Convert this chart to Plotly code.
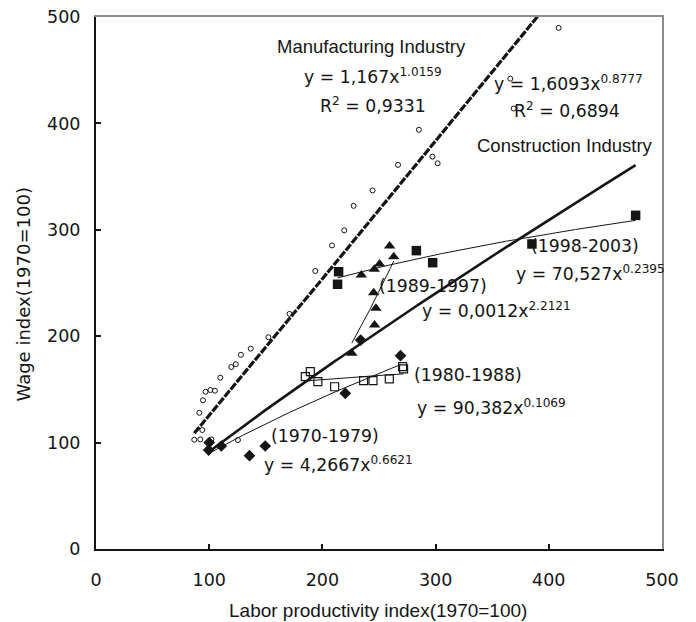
import numpy as np
import plotly.graph_objects as go

# ---------------- data ----------------
mfg_x = [100, 86.8, 92.1, 101.9, 125.4, 93.9, 91.3, 94.5, 96.8, 101, 105, 109.8, 119.5, 123.5,
         128, 136.7, 152.3, 171, 193.7, 208.5, 219.3, 227.6, 244.3, 266.8, 285.2, 297.2, 301.8,
         366, 369, 408.7]
mfg_y = [100, 102.7, 103, 103, 102.4, 111.8, 128, 139.8, 147.8, 149.4, 148.8, 161, 171, 173.7,
         182.5, 188.3, 199, 221, 261.3, 285.3, 299.5, 322.5, 337, 361, 394, 368.7, 362.5,
         442, 414, 489.8]

c7079_x = [100, 99.5, 110.7, 135.6, 149.5, 220.2, 233.8, 269]
c7079_y = [100, 93, 96.8, 87.7, 96.8, 146.3, 196.4, 181.7]

c8088_x = [184.9, 189.3, 196, 210.8, 236.4, 244.7, 259.1, 270.8, 271.7]
c8088_y = [162, 166.7, 157.3, 152.5, 158.2, 158.2, 159.8, 171.4, 169.2]

c8997_x = [226, 246.1, 247.3, 245.3, 234.4, 245.8, 250.5, 263, 259.4]
c8997_y = [184, 210.5, 226.2, 240.9, 257.5, 262.9, 267.9, 274.7, 284.8]

c9803_x = [213.4, 214.3, 283, 297.4, 385.1, 476.7]
c9803_y = [248.8, 260.6, 280.4, 269.1, 286.7, 313.6]

# power-law fit coefficients (y = a * x^b) as printed on the chart
mfg_fit = (1.167, 1.0159)
con_fit = (1.6093, 0.8777)
fit_7079 = (4.2667, 0.6621)
fit_8088 = (90.382, 0.1069)
fit_8997 = (0.0012, 2.2121)
fit_9803 = (70.527, 0.2395)

tick_vals = [0, 100, 200, 300, 400, 500]

# ---------------- figure ----------------
WORD_FONT = "Liberation Sans, Arial, sans-serif"
NUM_FONT = "DejaVu Sans, sans-serif"
INK = "#151515"
FRAME = "#8c8c8c"


def curve(xs, fit):
    xx = np.linspace(min(xs), max(xs), 120)
    return xx, fit[0] * xx ** fit[1]


fig = go.Figure()

con_all_x = c7079_x + c8088_x + c8997_x + c9803_x

# trend lines
for xs, fit, w, dash in [
    (mfg_x, mfg_fit, 3.2, "8px,1.5px"),
    (con_all_x, con_fit, 2.6, "solid"),
    (c7079_x, fit_7079, 1, "solid"),
    (c8088_x, fit_8088, 1, "solid"),
    (c8997_x, fit_8997, 1, "solid"),
    (c9803_x, fit_9803, 1, "solid"),
]:
    xx, yy = curve(xs, fit)
    fig.add_trace(go.Scatter(x=xx, y=yy, mode="lines",
                             line=dict(color=INK, width=w, dash=dash),
                             hoverinfo="skip", showlegend=False))

# markers
fig.add_trace(go.Scatter(x=mfg_x, y=mfg_y, mode="markers", showlegend=False,
                         marker=dict(symbol="circle-open", size=5, color=INK, line=dict(width=1))))
fig.add_trace(go.Scatter(x=c7079_x, y=c7079_y, mode="markers", showlegend=False,
                         marker=dict(symbol="diamond", size=9, color=INK)))
fig.add_trace(go.Scatter(x=c8088_x, y=c8088_y, mode="markers", showlegend=False,
                         marker=dict(symbol="square-open", size=8, color=INK, line=dict(width=1.2))))
fig.add_trace(go.Scatter(x=c8997_x, y=c8997_y, mode="markers", showlegend=False,
                         marker=dict(symbol="triangle-up", size=10, color=INK)))
fig.add_trace(go.Scatter(x=c9803_x, y=c9803_y, mode="markers", showlegend=False,
                         marker=dict(symbol="square", size=9.5, color=INK)))

# empty trace that carries the gray top/right frame axes
fig.add_trace(go.Scatter(x=[None], y=[None], xaxis="x2", yaxis="y2",
                         mode="markers", showlegend=False, hoverinfo="skip"))

# text labels (word labels / numeric labels)
word_labels = [
    ("Manufacturing Industry", 158.0, 472.0),
    ("Construction Industry", 335.0, 379.5),
]
num_labels = [
    ("y = 1,167x<sup>1.0159</sup>", 182.2, 444.5),
    ("R<sup>2</sup> = 0,9331", 195.8, 417.0),
    ("y = 1,6093x<sup>0.8777</sup>", 349.8, 438.0),
    ("R<sup>2</sup> = 0,6894", 367.5, 413.0),
    ("(1998-2003)", 382.2, 285.0),
    ("y = 70,527x<sup>0.2395</sup>", 368.9, 259.5),
    ("(1989-1997)", 248.2, 247.5),
    ("y = 0,0012x<sup>2.2121</sup>", 286.5, 224.5),
    ("(1980-1988)", 279.2, 163.5),
    ("y = 90,382x<sup>0.1069</sup>", 282.1, 133.0),
    ("(1970-1979)", 152.5, 106.5),
    ("y = 4,2667x<sup>0.6621</sup>", 146.6, 80.0),
]
for txt, x, y in word_labels:
    fig.add_annotation(x=x, y=y, xref="x", yref="y", text=txt, showarrow=False,
                       xanchor="left", yanchor="middle",
                       font=dict(family=WORD_FONT, size=18.5, color=INK))
for txt, x, y in num_labels:
    fig.add_annotation(x=x, y=y, xref="x", yref="y", text=txt, showarrow=False,
                       xanchor="left", yanchor="middle",
                       font=dict(family=NUM_FONT, size=17.3, color=INK))

# axis titles
fig.add_annotation(x=0.4985, y=-0.1147, xref="paper", yref="paper",
                   text="Labor productivity index(1970=100)", showarrow=False,
                   xanchor="center", yanchor="middle",
                   font=dict(family=WORD_FONT, size=19, color=INK))
fig.add_annotation(x=-0.1284, y=0.479, xref="paper", yref="paper",
                   text="Wage index(1970=100)", showarrow=False, textangle=-90,
                   xanchor="center", yanchor="middle",
                   font=dict(family=NUM_FONT, size=18, color=INK))

axis_common = dict(range=[0, 500], tickvals=tick_vals, showgrid=False, zeroline=False,
                   showline=True, linecolor=INK, linewidth=2, ticks="inside",
                   ticklen=5, tickwidth=1.5, tickcolor=INK, ticklabeloverflow="allow",
                   tickfont=dict(family=NUM_FONT, size=17.5, color=INK))

frame_common = dict(range=[0, 500], showgrid=False, zeroline=False, showline=True,
                    linecolor=FRAME, linewidth=1.5, ticks="", showticklabels=False)

fig.update_layout(
    width=696, height=622,
    margin=dict(l=96, r=34, t=17, b=73, autoexpand=False),
    paper_bgcolor="white", plot_bgcolor="white",
    showlegend=False,
    xaxis=dict(**axis_common, ticklabelstandoff=14),
    yaxis=dict(**axis_common, ticklabelstandoff=10),
    xaxis2=dict(**frame_common, overlaying="x", side="top", anchor="y2"),
    yaxis2=dict(**frame_common, overlaying="y", side="right", anchor="x2"),
)

fig.write_html("out.html",
               config={"displayModeBar": False},
               post_script="document.body.style.margin='0px';"
                           "document.body.style.overflow='hidden';")
